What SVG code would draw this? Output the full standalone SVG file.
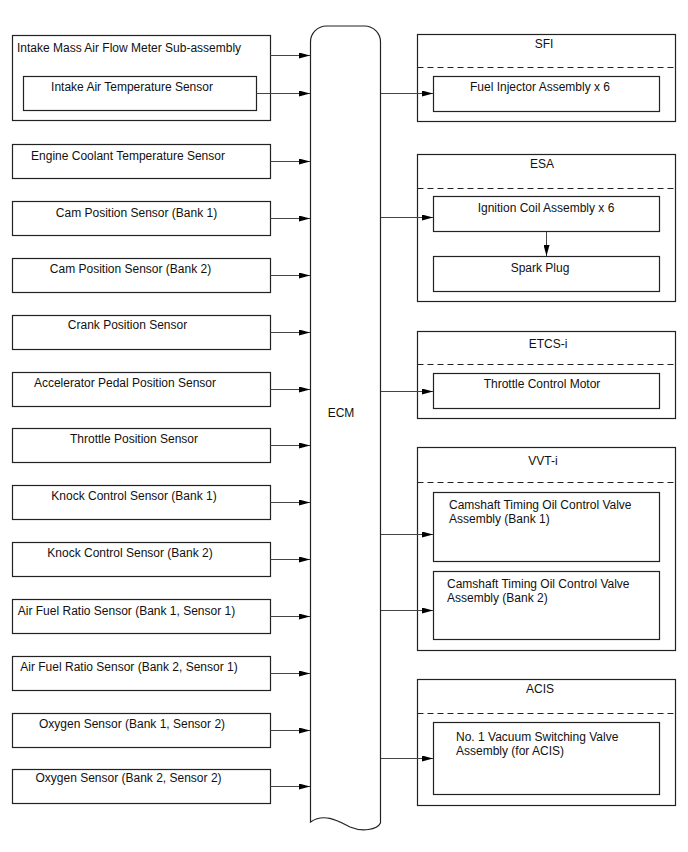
<svg xmlns="http://www.w3.org/2000/svg" width="688" height="852" viewBox="0 0 688 852">
<defs>
<marker id="ah" markerUnits="userSpaceOnUse" markerWidth="11" markerHeight="6" refX="11" refY="3" orient="auto">
<path d="M0,0 L11,3 L0,6 z" fill="#000"/>
</marker>
<style>
.box{fill:#fff;stroke:#222;stroke-width:1.2}
.grp{fill:#fff;stroke:#222;stroke-width:1.2}
.dash{stroke:#222;stroke-width:1.2;stroke-dasharray:6 4;fill:none}
.t{font-family:"Liberation Sans",Arial,sans-serif;font-size:12px;fill:#111}
.c{text-anchor:middle}
.conn{stroke:#444;stroke-width:1;fill:none;marker-end:url(#ah)}
</style>
</defs>
<rect width="688" height="852" fill="#fff"/>

<g id="maf">
<rect class="box" x="12.5" y="35.5" width="258" height="85"/>
<text class="t" x="17" y="52">Intake Mass Air Flow Meter Sub-assembly</text>
</g>
<g id="iat">
<rect class="box" x="23.5" y="76.5" width="233" height="34"/>
<text class="t c" x="132" y="91">Intake Air Temperature Sensor</text>
</g>
<g id="ect"><rect class="box" x="12.5" y="144.5" width="258" height="34"/><text class="t c" x="128" y="160">Engine Coolant Temperature Sensor</text></g>
<g id="cam1"><rect class="box" x="12.5" y="201.5" width="258" height="34"/><text class="t c" x="136.5" y="217">Cam Position Sensor (Bank 1)</text></g>
<g id="cam2"><rect class="box" x="12.5" y="258.5" width="258" height="34"/><text class="t c" x="130.5" y="273">Cam Position Sensor (Bank 2)</text></g>
<g id="crank"><rect class="box" x="12.5" y="315.5" width="258" height="34"/><text class="t c" x="127.5" y="329">Crank Position Sensor</text></g>
<g id="app"><rect class="box" x="12.5" y="372.5" width="258" height="34"/><text class="t c" x="125" y="387">Accelerator Pedal Position Sensor</text></g>
<g id="tps"><rect class="box" x="12.5" y="428.5" width="258" height="34"/><text class="t c" x="134" y="443">Throttle Position Sensor</text></g>
<g id="knock1"><rect class="box" x="12.5" y="485.5" width="258" height="34"/><text class="t c" x="134" y="500">Knock Control Sensor (Bank 1)</text></g>
<g id="knock2"><rect class="box" x="12.5" y="542.5" width="258" height="34"/><text class="t c" x="130" y="557">Knock Control Sensor (Bank 2)</text></g>
<g id="afr1"><rect class="box" x="12.5" y="599.5" width="258" height="34"/><text class="t c" x="126.5" y="615">Air Fuel Ratio Sensor (Bank 1, Sensor 1)</text></g>
<g id="afr2"><rect class="box" x="12.5" y="656.5" width="258" height="34"/><text class="t c" x="129" y="671">Air Fuel Ratio Sensor (Bank 2, Sensor 1)</text></g>
<g id="o2s1"><rect class="box" x="12.5" y="713.5" width="258" height="34"/><text class="t c" x="132" y="728">Oxygen Sensor (Bank 1, Sensor 2)</text></g>
<g id="o2s2"><rect class="box" x="12.5" y="769.5" width="258" height="34"/><text class="t c" x="128.5" y="782">Oxygen Sensor (Bank 2, Sensor 2)</text></g>

<g id="ecm">
<path class="box" d="M310.5,42 A16,16 0 0 1 326.5,26 H364.5 A16,16 0 0 1 380.5,42 V823 C377,830 362,832 350,827 C340,822 325,812 310.5,822 Z"/>
<text class="t c" x="341" y="417">ECM</text>
</g>

<g id="sfi">
<rect class="grp" x="417.5" y="34.5" width="258" height="87"/>
<line class="dash" x1="417.5" y1="67.5" x2="675.5" y2="67.5"/>
<text class="t c" x="544" y="48">SFI</text>
</g>
<g id="injector"><rect class="box" x="433.5" y="76.5" width="226" height="35"/><text class="t c" x="540" y="91">Fuel Injector Assembly x 6</text></g>

<g id="esa">
<rect class="grp" x="417.5" y="154.5" width="258" height="147"/>
<line class="dash" x1="417.5" y1="188.5" x2="675.5" y2="188.5"/>
<text class="t c" x="542" y="168">ESA</text>
</g>
<g id="coil"><rect class="box" x="433.5" y="196.5" width="226" height="35"/><text class="t c" x="546" y="212">Ignition Coil Assembly x 6</text></g>
<g id="plug"><rect class="box" x="433.5" y="256.5" width="226" height="35"/><text class="t c" x="540" y="272">Spark Plug</text></g>

<g id="etcs">
<rect class="grp" x="417.5" y="331.5" width="258" height="87"/>
<line class="dash" x1="417.5" y1="364.5" x2="675.5" y2="364.5"/>
<text class="t c" x="548" y="348">ETCS-i</text>
</g>
<g id="tcm"><rect class="box" x="433.5" y="373.5" width="226" height="35"/><text class="t c" x="542" y="388">Throttle Control Motor</text></g>

<g id="vvt">
<rect class="grp" x="417.5" y="447.5" width="258" height="203"/>
<line class="dash" x1="417.5" y1="482.5" x2="675.5" y2="482.5"/>
<text class="t c" x="543" y="465">VVT-i</text>
</g>
<g id="ocv1"><rect class="box" x="433.5" y="492.5" width="226" height="69"/><text class="t" x="449" y="509">Camshaft Timing Oil Control Valve</text><text class="t" x="449" y="523">Assembly (Bank 1)</text></g>
<g id="ocv2"><rect class="box" x="433.5" y="571.5" width="226" height="68"/><text class="t" x="447" y="588">Camshaft Timing Oil Control Valve</text><text class="t" x="447" y="602">Assembly (Bank 2)</text></g>

<g id="acis">
<rect class="grp" x="417.5" y="679.5" width="258" height="126"/>
<line class="dash" x1="417.5" y1="713.5" x2="675.5" y2="713.5"/>
<text class="t c" x="540" y="693">ACIS</text>
</g>
<g id="vsv"><rect class="box" x="433.5" y="722.5" width="226" height="72"/><text class="t" x="456" y="741">No. 1 Vacuum Switching Valve</text><text class="t" x="456" y="755">Assembly (for ACIS)</text></g>

<g id="connectors">
<line class="conn" x1="270.5" y1="55.5" x2="310" y2="55.5"/>
<line class="conn" x1="256.5" y1="93.5" x2="310" y2="93.5"/>
<line class="conn" x1="270.5" y1="161.5" x2="310" y2="161.5"/>
<line class="conn" x1="270.5" y1="218.5" x2="310" y2="218.5"/>
<line class="conn" x1="270.5" y1="275.5" x2="310" y2="275.5"/>
<line class="conn" x1="270.5" y1="332.5" x2="310" y2="332.5"/>
<line class="conn" x1="270.5" y1="389.5" x2="310" y2="389.5"/>
<line class="conn" x1="270.5" y1="445.5" x2="310" y2="445.5"/>
<line class="conn" x1="270.5" y1="502.5" x2="310" y2="502.5"/>
<line class="conn" x1="270.5" y1="559.5" x2="310" y2="559.5"/>
<line class="conn" x1="270.5" y1="616.5" x2="310" y2="616.5"/>
<line class="conn" x1="270.5" y1="673.5" x2="310" y2="673.5"/>
<line class="conn" x1="270.5" y1="730.5" x2="310" y2="730.5"/>
<line class="conn" x1="270.5" y1="786.5" x2="310" y2="786.5"/>
<line class="conn" x1="381" y1="93.5" x2="433" y2="93.5"/>
<line class="conn" x1="381" y1="217.5" x2="433" y2="217.5"/>
<line class="conn" x1="546.5" y1="232" x2="546.5" y2="256"/>
<line class="conn" x1="381" y1="391.5" x2="433" y2="391.5"/>
<line class="conn" x1="381" y1="534.5" x2="433" y2="534.5"/>
<line class="conn" x1="381" y1="610.5" x2="433" y2="610.5"/>
<line class="conn" x1="381" y1="758.5" x2="433" y2="758.5"/>
</g>
</svg>
